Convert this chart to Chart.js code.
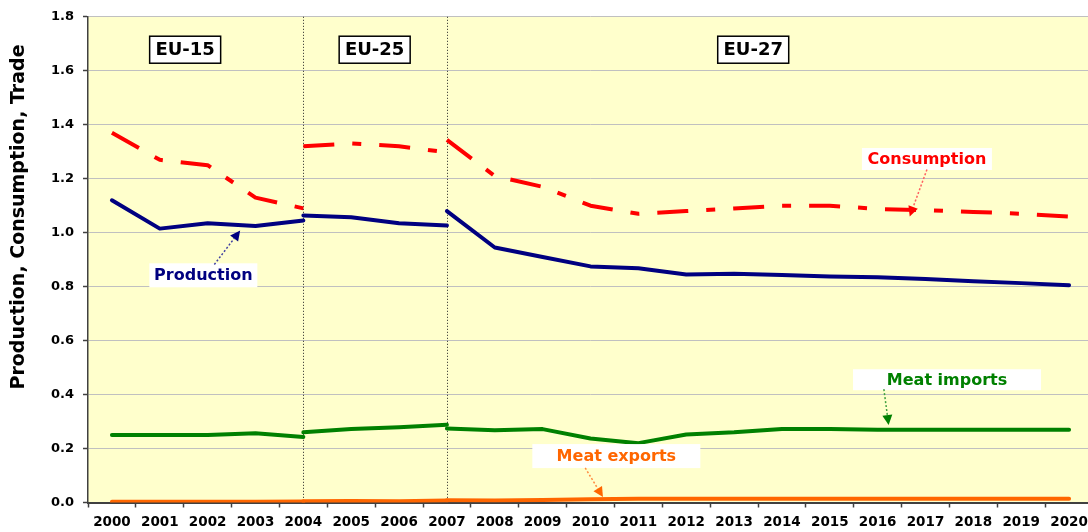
<!DOCTYPE html>
<html>
<head>
<meta charset="utf-8">
<script src="https://cdn.jsdelivr.net/npm/chart.js"></script>
<style>
  html, body { margin: 0; padding: 0; background: #fff; overflow: hidden; }
  #wrap { width: 1094px; height: 532px; }
</style>
</head>
<body>
<div id="wrap"><canvas id="meat"></canvas></div>
<script>
var years = ['2000','2001','2002','2003','2004','2005','2006','2007','2008','2009','2010',
             '2011','2012','2013','2014','2015','2016','2017','2018','2019','2020'];

// periods: EU-15 2000-2004, EU-25 2004-2007, EU-27 2007-2020
var years15 = years.slice(0, 5);
var years25 = years.slice(4, 8);
var years27 = years.slice(7);

var consumption15 = [1.37, 1.27, 1.25, 1.13, 1.09];
var consumption25 = [1.32, 1.331, 1.32, 1.298];
var consumption27 = [1.344, 1.21, 1.17, 1.10, 1.07, 1.08, 1.09, 1.10, 1.10, 1.088, 1.083, 1.077, 1.07, 1.06];

var production15 = [1.12, 1.015, 1.035, 1.025, 1.045];
var production25 = [1.064, 1.057, 1.035, 1.027];
var production27 = [1.08, 0.945, 0.91, 0.875, 0.868, 0.845, 0.848, 0.843, 0.838, 0.835, 0.828, 0.82, 0.813, 0.805];

var imports15 = [0.25, 0.25, 0.25, 0.257, 0.243];
var imports25 = [0.26, 0.272, 0.279, 0.288];
var imports27 = [0.274, 0.268, 0.272, 0.237, 0.22, 0.252, 0.26, 0.272, 0.272, 0.27, 0.27, 0.27, 0.27, 0.27];

var exports15 = [0.003, 0.003, 0.003, 0.003, 0.004];
var exports25 = [0.005, 0.006, 0.005, 0.007];
var exports27 = [0.008, 0.007, 0.009, 0.012, 0.014, 0.014, 0.014, 0.014, 0.014, 0.014, 0.014, 0.014, 0.014, 0.014];

var yTicks = [0, 1.8, 0.2];   // min, max, step
var borders = ['2004', '2007'];
var periodLabels = ['EU-15', 'EU-25', 'EU-27'];

var FONT = 'DejaVu Sans';

function pairs(xs, ys) {
    var out = [];
    for (let i = 0; i < xs.length; i++) out.push({x: xs[i], y: ys[i]});
    return out;
}

function line(label, xs, ys, color, dash) {
    return {
        label: label,
        data: pairs(xs, ys),
        borderColor: color,
        backgroundColor: color,
        borderWidth: 4,
        borderDash: dash || [],
        borderCapStyle: dash ? 'butt' : 'round',
        borderJoinStyle: 'round',
        pointRadius: 0,
        pointHoverRadius: 0,
        tension: 0,
        fill: false
    };
}

var RED = '#ff0000', NAVY = '#000080', GREEN = '#008000', ORANGE = '#ff6600';
var DASH = [31, 18, 9, 18];

// label boxes, placed in data units (category index, value)
var periodBoxes = [
    {text: periodLabels[0], at: [1.53, 1.678]},
    {text: periodLabels[1], at: [5.49, 1.678]},
    {text: periodLabels[2], at: [13.4, 1.678]}
];

var notes = [
    {text: 'Consumption', color: RED, arrow: '#ff6060', at: [17.03, 1.273], w: 130, h: 22, from: [17.03, 1.234], to: [16.67, 1.06]},
    {text: 'Production', color: NAVY, arrow: '#4040a0', at: [1.91, 0.842], w: 108, h: 24, from: [2.14, 0.882], to: [2.68, 1.008]},
    {text: 'Meat imports', color: GREEN, arrow: '#40a040', at: [17.45, 0.455], w: 188, h: 21, from: [16.13, 0.42], to: [16.23, 0.287]},
    {text: 'Meat exports', color: ORANGE, arrow: '#ff8a40', at: [10.54, 0.172], w: 168, h: 24, from: [9.89, 0.128], to: [10.26, 0.02]}
];

var decor = {
    id: 'decor',
    beforeDraw: function(chart) {
        var c = chart.ctx, a = chart.chartArea;
        c.save();
        c.fillStyle = '#ffffcc';
        c.fillRect(a.left, a.top, a.right - a.left, a.bottom - a.top);
        c.restore();
    },
    beforeDatasetsDraw: function(chart) {
        var c = chart.ctx, a = chart.chartArea, xs = chart.scales.x;
        c.save();
        c.strokeStyle = '#202020';
        c.lineWidth = 1;
        c.setLineDash([1, 2]);
        borders.forEach(function(b) {
            var x = Math.round(xs.getPixelForValue(years.indexOf(b))) + 0.5;
            c.beginPath();
            c.moveTo(x, a.top);
            c.lineTo(x, a.bottom);
            c.stroke();
        });
        c.restore();
    },
    afterDraw: function(chart) {
        var c = chart.ctx, xs = chart.scales.x, ys = chart.scales.y;
        function P(p) { return [xs.getPixelForValue(p[0]), ys.getPixelForValue(p[1])]; }
        c.save();

        // y title
        c.save();
        c.translate(19, 217);
        c.rotate(-Math.PI / 2);
        c.font = 'bold 19px ' + FONT;
        c.fillStyle = '#000';
        c.textAlign = 'center';
        c.textBaseline = 'middle';
        c.fillText('Production, Consumption, Trade', 0, 0);
        c.restore();

        // period boxes
        c.font = 'bold 18px ' + FONT;
        c.textAlign = 'center';
        c.textBaseline = 'middle';
        periodBoxes.forEach(function(b) {
            var p = P(b.at);
            c.fillStyle = '#fff';
            c.fillRect(p[0] - 35.5, p[1] - 13.5, 71, 27);
            c.strokeStyle = '#000';
            c.lineWidth = 1.5;
            c.strokeRect(p[0] - 35.5, p[1] - 13.5, 71, 27);
            c.fillStyle = '#000';
            c.fillText(b.text, p[0], p[1] + 1);
        });

        // annotations with arrows
        notes.forEach(function(n) {
            var p = P(n.at), s = P(n.from), t = P(n.to);
            c.fillStyle = '#fff';
            c.fillRect(p[0] - n.w / 2, p[1] - n.h / 2, n.w, n.h);
            c.fillStyle = n.color;
            c.font = 'bold 16px ' + FONT;
            c.fillText(n.text, p[0], p[1] + 1);

            var ang = Math.atan2(t[1] - s[1], t[0] - s[0]);
            var hl = 10, hw = 5;
            var bx = t[0] - hl * Math.cos(ang), by = t[1] - hl * Math.sin(ang);
            c.strokeStyle = n.arrow;
            c.lineWidth = 1.5;
            c.setLineDash([2, 2]);
            c.beginPath();
            c.moveTo(s[0], s[1]);
            c.lineTo(bx, by);
            c.stroke();
            c.setLineDash([]);
            c.fillStyle = n.color;
            c.beginPath();
            c.moveTo(t[0], t[1]);
            c.lineTo(bx + hw * Math.sin(ang), by - hw * Math.cos(ang));
            c.lineTo(bx - hw * Math.sin(ang), by + hw * Math.cos(ang));
            c.closePath();
            c.fill();
        });
        c.restore();
    }
};

var ctx = document.getElementById('meat').getContext('2d');

var chart = new Chart(ctx, {
    type: 'line',
    data: {
        labels: years,
        datasets: [
            line('Meat exports EU-15', years15, exports15, ORANGE),
            line('Meat exports EU-25', years25, exports25, ORANGE),
            line('Meat exports EU-27', years27, exports27, ORANGE),
            line('Meat imports EU-15', years15, imports15, GREEN),
            line('Meat imports EU-25', years25, imports25, GREEN),
            line('Meat imports EU-27', years27, imports27, GREEN),
            line('Production EU-15', years15, production15, NAVY),
            line('Production EU-25', years25, production25, NAVY),
            line('Production EU-27', years27, production27, NAVY),
            line('Consumption EU-15', years15, consumption15, RED, DASH),
            line('Consumption EU-25', years25, consumption25, RED, DASH),
            line('Consumption EU-27', years27, consumption27, RED, DASH)
        ]
    },
    options: {
        responsive: true,
        maintainAspectRatio: false,
        animation: false,
        layout: { padding: { top: 16, right: 1, bottom: 0, left: 0 } },
        plugins: {
            legend: { display: false },
            tooltip: { enabled: false }
        },
        scales: {
            x: {
                type: 'category',
                offset: true,
                grid: {
                    offset: true,
                    drawOnChartArea: false,
                    drawTicks: true,
                    tickLength: 5,
                    tickColor: '#404040',
                    tickWidth: 1.5
                },
                border: { color: '#404040', width: 2 },
                ticks: {
                    color: '#000',
                    font: { family: FONT, size: 13.5, weight: 'bold' },
                    padding: 7,
                    maxRotation: 0,
                    autoSkip: false
                },
                afterFit: function(s) {
                    s.height = 29.5;
                    s.paddingLeft = 0;
                    s.paddingRight = 0;
                }
            },
            y: {
                min: yTicks[0],
                max: yTicks[1],
                grid: {
                    color: '#c0c0c0',
                    lineWidth: 1,
                    tickLength: 5,
                    tickColor: '#404040',
                    tickWidth: 1.5
                },
                border: { color: '#404040', width: 1.5 },
                ticks: {
                    stepSize: yTicks[2],
                    color: '#000',
                    font: { family: FONT, size: 13, weight: 'bold' },
                    padding: 9,
                    callback: function(v) { return v.toFixed(1); }
                },
                afterFit: function(s) { s.width = 88; }
            }
        }
    },
    plugins: [decor]
});
</script>
</body>
</html>
